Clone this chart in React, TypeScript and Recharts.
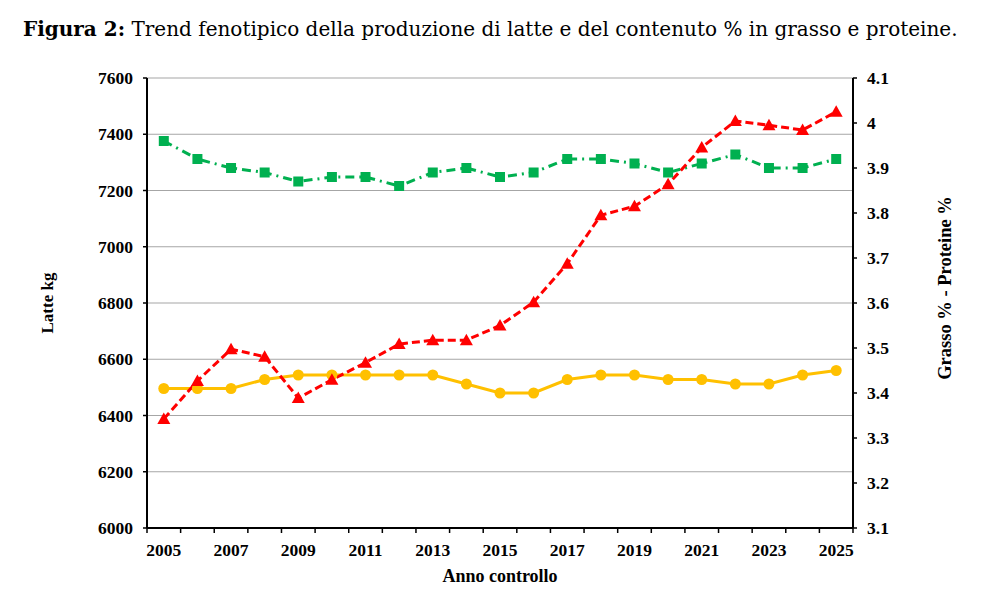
import React from 'react';
import { LineChart, Line, XAxis, YAxis, CartesianGrid, Label } from 'recharts';

const years = ['2005','2006','2007','2008','2009','2010','2011','2012','2013','2014','2015','2016','2017','2018','2019','2020','2021','2022','2023','2024','2025'];
const milkKg = [6388,6523,6636,6609,6462,6527,6588,6654,6668,6668,6720,6803,6940,7112,7144,7222,7353,7447,7432,7415,7480];
const fatPct = [3.96,3.92,3.90,3.89,3.87,3.88,3.88,3.86,3.89,3.90,3.88,3.89,3.92,3.92,3.91,3.89,3.91,3.93,3.90,3.90,3.92];
const proteinPct = [3.41,3.41,3.41,3.43,3.44,3.44,3.44,3.44,3.44,3.42,3.40,3.40,3.43,3.44,3.44,3.43,3.43,3.42,3.42,3.44,3.45];
const leftTicks = [6000,6200,6400,6600,6800,7000,7200,7400,7600];
const rightTicks = [3.1,3.2,3.3,3.4,3.5,3.6,3.7,3.8,3.9,4.0,4.1];

const data = years.map((y, i) => ({ year: y, milk: milkKg[i], fat: fatPct[i], protein: proteinPct[i] }));

const FONT = '"Liberation Serif", "Times New Roman", serif';
const HALF = 16.8;
const TICK_MARGIN = 16;

const XTick = (props: any) => {
  const { x, y, payload, index, visibleTicksCount } = props;
  const axisY = y - TICK_MARGIN;
  const last = index === (visibleTicksCount ?? years.length) - 1;
  return (
    <g>
      <line x1={x - HALF} x2={x - HALF} y1={axisY} y2={axisY + 5} stroke="#000" strokeWidth={1.5} />
      {last && <line x1={x + HALF} x2={x + HALF} y1={axisY} y2={axisY + 5} stroke="#000" strokeWidth={1.5} />}
      {index % 2 === 0 && (
        <text x={x} y={y} dy="0.71em" textAnchor="middle" fontFamily={FONT} fontWeight="bold" fontSize={17.5} fill="#000">
          {payload.value}
        </text>
      )}
    </g>
  );
};

const Triangle = (props: any) => {
  const { cx, cy } = props;
  if (cx == null || cy == null) return <g />;
  return <path d={`M${cx},${cy - 6.5} L${cx + 6.5},${cy + 5} L${cx - 6.5},${cy + 5} Z`} fill="#FF0000" />;
};
const Square = (props: any) => {
  const { cx, cy } = props;
  if (cx == null || cy == null) return <g />;
  return <rect x={cx - 5} y={cy - 5} width={10} height={10} fill="#00B050" />;
};
const Circle = (props: any) => {
  const { cx, cy } = props;
  if (cx == null || cy == null) return <g />;
  return <circle cx={cx} cy={cy} r={5.5} fill="#FFC000" />;
};

const RightLabel = (props: any) => {
  const { viewBox } = props;
  const x = viewBox.x + viewBox.width - 28;
  const y = viewBox.y + viewBox.height / 2 - 15;
  return (
    <text x={x} y={y} transform={`rotate(-90, ${x}, ${y})`} textAnchor="middle" dominantBaseline="central" fontFamily={FONT} fontWeight="bold" fontSize={18.5} fill="#000">
      Grasso % - Proteine %
    </text>
  );
};
const LeftLabel = (props: any) => {
  const { viewBox } = props;
  const x = viewBox.x + 39;
  const y = viewBox.y + viewBox.height / 2;
  return (
    <text x={x} y={y} transform={`rotate(-90, ${x}, ${y})`} textAnchor="middle" dominantBaseline="central" fontFamily={FONT} fontWeight="bold" fontSize={17} fill="#000">
      Latte kg
    </text>
  );
};
const BottomLabel = (props: any) => {
  const { viewBox } = props;
  const x = viewBox.x + viewBox.width / 2;
  const y = viewBox.y + 48;
  return (
    <text x={x} y={y} textAnchor="middle" dominantBaseline="central" fontFamily={FONT} fontWeight="bold" fontSize={18} fill="#000">
      Anno controllo
    </text>
  );
};

export default function App() {
  const tickStyle = { fontFamily: FONT, fontWeight: 'bold' as const, fontSize: 17.5, fill: '#000' };
  return (
    <div style={{ position: 'relative', width: 965, height: 587, background: '#fff' }}>
      <div style={{ position: 'absolute', left: 15, top: 11, fontFamily: '"DejaVu Serif", serif', fontSize: 20, lineHeight: '20px', color: '#000', whiteSpace: 'nowrap' }}>
        <b>Figura 2:</b> Trend fenotipico della produzione di latte e del contenuto % in grasso e proteine.
      </div>
      <LineChart width={965} height={587} data={data} margin={{ top: 70, right: 0, bottom: 0, left: 0 }}>
        <CartesianGrid yAxisId="left" vertical={false} stroke="#A6A6A6" strokeWidth={1.2} />
        <XAxis
          dataKey="year"
          interval={0}
          height={67}
          padding={{ left: HALF, right: HALF }}
          tickSize={0}
          tickMargin={TICK_MARGIN}
          tickLine={false}
          axisLine={{ stroke: '#000', strokeWidth: 2 }}
          tick={(p: any) => <XTick {...p} />}
        >
          <Label content={<BottomLabel />} />
        </XAxis>
        <YAxis
          yAxisId="left"
          width={139}
          domain={[6000, 7600]}
          ticks={leftTicks}
          interval={0}
          tickSize={4}
          tickMargin={10}
          tick={tickStyle}
          tickLine={{ stroke: '#000', strokeWidth: 1.5 }}
          axisLine={{ stroke: '#000', strokeWidth: 2 }}
          allowDataOverflow
        >
          <Label content={<LeftLabel />} />
        </YAxis>
        <YAxis
          yAxisId="right"
          orientation="right"
          width={120}
          domain={[3.1, 4.1]}
          ticks={rightTicks}
          interval={0}
          tickSize={4}
          tickMargin={10}
          tick={tickStyle}
          tickFormatter={(v: number) => String(Number(v.toFixed(1)))}
          tickLine={{ stroke: '#000', strokeWidth: 1.5 }}
          axisLine={{ stroke: '#000', strokeWidth: 2 }}
          allowDataOverflow
        >
          <Label content={<RightLabel />} />
        </YAxis>
        <Line yAxisId="right" dataKey="protein" stroke="#FFC000" strokeWidth={3} dot={(p: any) => <Circle key={`c${p.index}`} {...p} />} activeDot={false} isAnimationActive={false} />
        <Line yAxisId="right" dataKey="fat" stroke="#00B050" strokeWidth={3} strokeDasharray="9 5 2 5" dot={(p: any) => <Square key={`s${p.index}`} {...p} />} activeDot={false} isAnimationActive={false} />
        <Line yAxisId="left" dataKey="milk" stroke="#FF0000" strokeWidth={3} strokeDasharray="8 4" dot={(p: any) => <Triangle key={`t${p.index}`} {...p} />} activeDot={false} isAnimationActive={false} />
      </LineChart>
    </div>
  );
}
